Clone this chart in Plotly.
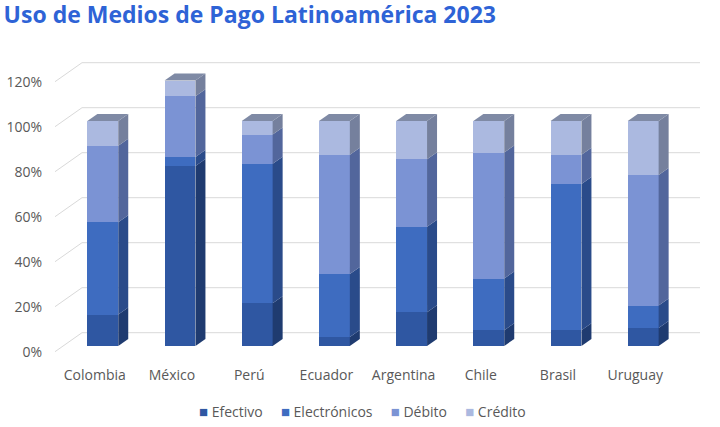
import plotly.graph_objects as go

# datos (porcentaje de uso por medio de pago)
paises = ["Colombia", "México", "Perú", "Ecuador", "Argentina", "Chile", "Brasil", "Uruguay"]
efectivo = [0.14, 0.80, 0.19, 0.04, 0.15, 0.07, 0.07, 0.08]
electronicos = [0.41, 0.04, 0.62, 0.28, 0.38, 0.23, 0.65, 0.10]
debito = [0.34, 0.27, 0.13, 0.53, 0.30, 0.56, 0.13, 0.58]
credito = [0.11, 0.07, 0.06, 0.15, 0.17, 0.14, 0.15, 0.24]

series = [
    ("Efectivo", efectivo, "#2f57a2", "#1f3b70"),
    ("Electrónicos", electronicos, "#3e6cc0", "#2a4b8a"),
    ("Débito", debito, "#7b93d4", "#52669c"),
    ("Crédito", credito, "#abb9e0", "#75809d"),
]
top_color = "#7f8aa5"
grid_color = "#d9d9d9"
text_color = "#595959"

W, H = 720, 427
ml, mr, mt, mb = 50, 15, 60, 67
plot_w = W - ml - mr
plot_h = H - mt - mb

# escala: 225 px por 100%, base de barras a 346 px
px_unit = 225.0
r0 = -((H - mb) - 346) / px_unit
r1 = r0 + plot_h / px_unit
step = 77.2
xr0 = -(102.8 - ml) / step
xr1 = xr0 + plot_w / step

hw = 0.2                 # media anchura de barra
dx = 10 / step           # profundidad 3D
dy = 7 / px_unit
back = 13.3 / px_unit    # pared del fondo
front = 5.7 / px_unit    # plano de etiquetas


def xp(px):
    return (px - ml) / plot_w


fig = go.Figure()
for name, vals, col, _ in series:
    fig.add_trace(go.Bar(
        x=paises, y=vals, name=name, width=0.4, showlegend=False,
        marker=dict(color=col, line=dict(width=0)),
        hovertemplate="%{x}: %{y:.0%}<extra>" + name + "</extra>"))

# caras laterales y superior
shapes = []
for i in range(len(paises)):
    base = 0
    for name, vals, col, side in series:
        t = base + vals[i]
        a = i + hw
        shapes.append(dict(
            type="path", xref="x", yref="y", layer="above",
            path=f"M {a},{base} L {a+dx},{base+dy} L {a+dx},{t+dy} L {a},{t} Z",
            fillcolor=side, line=dict(width=0)))
        base = t
    l = i - hw
    shapes.append(dict(
        type="path", xref="x", yref="y", layer="above",
        path=f"M {l},{base} L {l+dx},{base+dy} L {i+hw+dx},{base+dy} L {i+hw},{base} Z",
        fillcolor=top_color, line=dict(width=0)))

# rejilla en perspectiva
ticks = [0, 0.2, 0.4, 0.6, 0.8, 1.0, 1.2]
for v in ticks:
    shapes.append(dict(type="line", xref="paper", yref="y", layer="below",
                       x0=xp(82), x1=xp(700), y0=v + back, y1=v + back,
                       line=dict(color=grid_color, width=1)))
    shapes.append(dict(type="line", xref="paper", yref="y", layer="below",
                       x0=xp(55), x1=xp(82), y0=v - front, y1=v + back,
                       line=dict(color=grid_color, width=1)))

# eje de etiquetas (plano frontal)
fig.add_trace(go.Scatter(x=[paises[0]], y=[None], yaxis="y2", showlegend=False,
                         hoverinfo="skip"))

# leyenda compacta
sep = "&nbsp;" * 5
legend_txt = sep.join(
    f"<span style='color:{col};font-size:15px'>■</span>&nbsp;{name}" for name, _, col, _ in series)

fig.update_layout(
    width=W, height=H,
    margin=dict(l=ml, r=mr, t=mt, b=mb, autoexpand=False),
    paper_bgcolor="white", plot_bgcolor="rgba(0,0,0,0)",
    barmode="stack",
    shapes=shapes,
    font=dict(family="Open Sans", size=14, color=text_color),
    title=dict(text="<b>Uso de Medios de Pago Latinoamérica 2023</b>",
               x=0.005, xref="container", xanchor="left",
               y=1 - 14.5 / H, yref="container", yanchor="middle", automargin=False,
               font=dict(family="Open Sans", size=23, color="#2e63d6")),
    xaxis=dict(type="category", range=[xr0, xr1], showgrid=False, zeroline=False,
               showline=False, ticks="", ticklabelshift=-8, ticklabelstandoff=5,
               automargin=False, tickfont=dict(size=14, color=text_color)),
    yaxis=dict(range=[r0, r1], showgrid=False, zeroline=False, showticklabels=False,
               automargin=False),
    yaxis2=dict(range=[r0 + front, r1 + front], overlaying="y", side="left",
                showgrid=False, zeroline=False, tickvals=ticks, tickformat=".0%",
                ticklabelstandoff=7, automargin=False,
                tickfont=dict(size=14, color=text_color)),
    annotations=[dict(text=legend_txt, xref="paper", yref="paper",
                      x=xp(362), y=-(411 - (H - mb)) / plot_h,
                      xanchor="center", yanchor="middle", showarrow=False,
                      font=dict(size=14, color=text_color))],
    showlegend=False,
    hovermode="closest",
)

# sin margen del body para que la figura ocupe toda la ventana
fig.write_html("out.html", config={"displayModeBar": False},
               post_script="document.body.style.margin='0';")
